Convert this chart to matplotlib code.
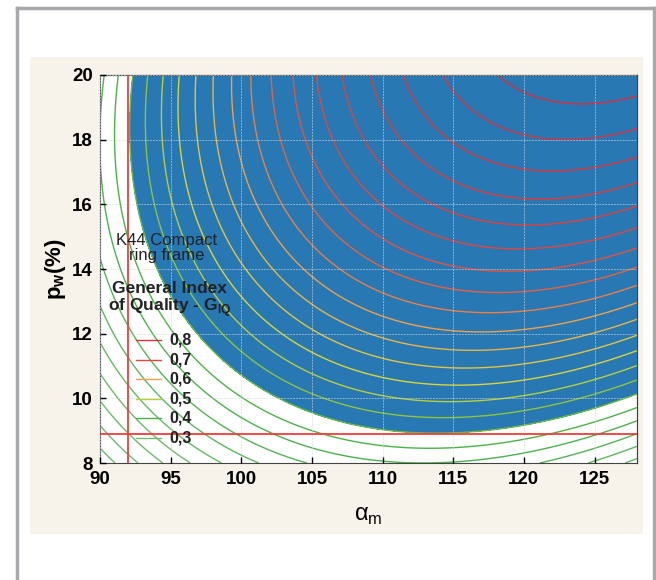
import numpy as np
import matplotlib.pyplot as plt
from matplotlib.colors import LinearSegmentedColormap, Normalize
from matplotlib.patches import Rectangle
from matplotlib.lines import Line2D

plt.rcParams['font.family'] = ['Liberation Sans', 'DejaVu Sans']
plt.rcParams['mathtext.fontset'] = 'custom'
plt.rcParams['mathtext.rm'] = 'Liberation Sans:bold'
plt.rcParams['mathtext.sf'] = 'Liberation Sans'

# points traced on the contour lines of the reference: (alpha_m, p_w, G_IQ level)
top_x = [90.27, 91.3, 92.3, 93.2, 94.45, 95.6, 96.82, 98.0, 99.32, 100.68,
         102.1, 103.68, 105.35, 107.2, 109.25, 111.55, 114.4, 118.2]
top_y = [20.0] * 18
top_lev = [0.40, 0.425, 0.45, 0.475, 0.50, 0.525, 0.55, 0.575, 0.60, 0.625,
           0.65, 0.675, 0.70, 0.725, 0.75, 0.775, 0.80, 0.825]

low_x = [124.4, 122.2, 122.0, 120.5, 120.0, 120.0, 118.3, 118.3, 116.7, 116.7,
         116.0, 115.3, 115.0, 114.8, 114.5, 113.6, 113.2, 113.0]
low_y = [19.1, 18.0, 17.06, 16.2, 15.39, 14.62, 13.94, 13.26, 12.64, 12.05,
         11.46, 10.94, 10.41, 9.9, 9.42, 8.93, 8.49, 8.03]
low_lev = [0.825, 0.80, 0.775, 0.75, 0.725, 0.70, 0.675, 0.65, 0.625, 0.60,
           0.575, 0.55, 0.525, 0.50, 0.475, 0.45, 0.425, 0.40]

right_x = [128.0] * 11
right_y = [19.35, 18.36, 17.46, 16.66, 15.89, 15.2, 10.13, 9.76, 9.36, 8.95, 8.55]
right_lev = [0.825, 0.80, 0.775, 0.75, 0.725, 0.70, 0.45, 0.425, 0.40, 0.375, 0.35]

edge_x = [92.85, 93.3, 96.38, 99.43, 102.05, 104.95, 124.6]
edge_y = [16.03, 14.7, 12.51, 10.97, 10.04, 9.42, 9.48]
edge_lev = [0.45] * 7

quality_threshold = 0.45
alpha_limit = 92.0
pw_limit = 8.9

legend_levels = [0.8, 0.7, 0.6, 0.5, 0.4, 0.3]
legend_labels = ['0,8', '0,7', '0,6', '0,5', '0,4', '0,3']
contour_levels = np.arange(0.150, 0.851, 0.025)

# quadratic response surface through the traced points
px = np.array(top_x + low_x + right_x + edge_x)
py = np.array(top_y + low_y + right_y + edge_y)
pl = np.array(top_lev + low_lev + right_lev + edge_lev)


def design(x, y):
    X = (x - 110) / 10
    Y = (y - 14) / 4
    return np.stack([np.ones_like(X), X, Y, X**2, X * Y, Y**2], axis=-1)


coef = np.linalg.lstsq(design(px, py), pl, rcond=None)[0]
gx, gy = np.meshgrid(np.linspace(90, 128, 400), np.linspace(8, 20, 400))
gz = design(gx, gy) @ coef

lo, hi = 0.30, 0.85
stops = [(0.30, '#6cbc6a'), (0.42, '#45b048'), (0.47, '#86c240'), (0.52, '#d8d83a'),
         (0.57, '#e8b848'), (0.60, '#eea04a'), (0.65, '#e8603f'), (0.70, '#e4453c'),
         (0.85, '#d42a3a')]
cmap = LinearSegmentedColormap.from_list('giq', [((v - lo) / (hi - lo), c) for v, c in stops])
norm = Normalize(lo, hi)

fig = plt.figure(figsize=(6.56, 5.8), dpi=100)
fig.patch.set_facecolor('white')
fig.add_artist(Rectangle((0.0457, 0.0793), 0.9345, 0.8224, transform=fig.transFigure,
                         facecolor='#f7f3eb', edgecolor='none', zorder=0))
fc = '#a8a9ac'
fig.add_artist(Line2D([0.0259, 0.0259], [0, 0.986], transform=fig.transFigure, color=fc, lw=2.5))
fig.add_artist(Line2D([0.0259, 0.9962], [0.986, 0.986], transform=fig.transFigure, color=fc, lw=2.5))
fig.add_artist(Line2D([0.9962, 0.9962], [0, 0.986], transform=fig.transFigure, color=fc, lw=2.5))

ax = fig.add_axes([0.1524, 0.2017, 0.8186, 0.669])
ax.set_facecolor('white')
ax.contourf(gx, gy, gz, levels=[quality_threshold, 10], colors=['#2878b3'], zorder=1)
ax.contour(gx, gy, gz, levels=contour_levels, colors=[cmap(norm(v)) for v in contour_levels],
           linewidths=1.0, zorder=2)

ax.axvline(alpha_limit, color='#f03c3c', lw=1.3, zorder=4)
ax.axhline(pw_limit, color='#f03c3c', lw=1.3, zorder=4)

ax.set_xlim(90, 128)
ax.set_ylim(8, 20)
ax.set_xticks(np.arange(90, 126, 5))
ax.set_yticks(np.arange(8, 21, 2))
ax.set_axisbelow(False)
ax.grid(True, color='#d4d8dc', lw=0.7, ls=(0, (2, 1)), alpha=0.6)
ax.tick_params(direction='in', length=4, width=1, labelsize=13.5, pad=6)
ax.tick_params(axis='y', pad=5)
for lab in ax.get_xticklabels() + ax.get_yticklabels():
    lab.set_fontweight('bold')
for sp in ax.spines.values():
    sp.set_color('#444444')

top = ax.secondary_xaxis('top')
top.set_xticks([97.6, 105.2, 112.8, 120.4])
top.tick_params(direction='in', length=3, labeltop=False)
right = ax.secondary_yaxis('right')
right.set_yticks([10.35, 12.76, 15.17, 17.59])
right.tick_params(direction='in', length=3, labelright=False)

ax.set_xlabel('α$_\\mathsf{m}$', fontsize=17, labelpad=12)
ax.set_ylabel('p$_\\mathrm{w}$(%)', fontsize=16, fontweight='bold', labelpad=3)

ax.text(0.124, 0.553, 'K44 Compact\nring frame', transform=ax.transAxes, ha='center',
        va='center', fontsize=12, color='#222222', linespacing=1.0, zorder=6)
ax.text(0.13, 0.421, 'General Index\nof Quality - G$_\\mathrm{IQ}$', transform=ax.transAxes,
        ha='center', va='center', fontsize=12.5, fontweight='bold', color='#222222',
        linespacing=1.0, zorder=6)
for i, (lv, lb) in enumerate(zip(legend_levels, legend_labels)):
    yy = 0.317 - i * 0.0503
    ax.plot([0.067, 0.114], [yy, yy], transform=ax.transAxes, color=cmap(norm(lv)),
            lw=1.0, zorder=6)
    ax.text(0.130, yy, lb, transform=ax.transAxes, ha='left', va='center', fontsize=11.5,
            fontweight='bold', color='#222222', zorder=6)

fig.savefig('out.png', dpi=100, facecolor='white')
